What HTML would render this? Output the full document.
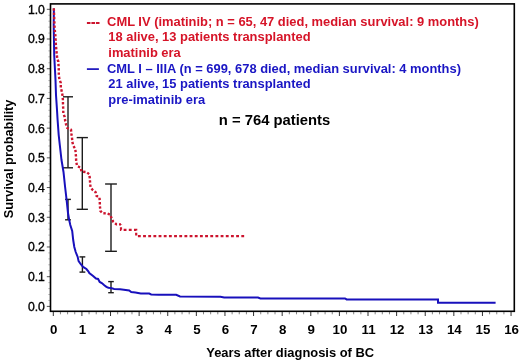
<!DOCTYPE html>
<html><head><meta charset="utf-8"><style>
html,body{margin:0;padding:0;background:#fff;}
body{width:520px;height:362px;overflow:hidden;}
svg{display:block;will-change:transform;}
</style></head><body>
<svg width="520" height="362" viewBox="0 0 520 362">
<rect x="0" y="0" width="520" height="362" fill="#fff"/>
<line x1="46.8" y1="306.40" x2="50.5" y2="306.40" stroke="#555" stroke-width="1"/>
<line x1="48.2" y1="300.46" x2="50.5" y2="300.46" stroke="#999" stroke-width="0.6"/>
<line x1="48.2" y1="294.52" x2="50.5" y2="294.52" stroke="#999" stroke-width="0.6"/>
<line x1="48.2" y1="288.57" x2="50.5" y2="288.57" stroke="#999" stroke-width="0.6"/>
<line x1="48.2" y1="282.63" x2="50.5" y2="282.63" stroke="#999" stroke-width="0.6"/>
<line x1="46.8" y1="276.69" x2="50.5" y2="276.69" stroke="#555" stroke-width="1"/>
<line x1="48.2" y1="270.75" x2="50.5" y2="270.75" stroke="#999" stroke-width="0.6"/>
<line x1="48.2" y1="264.81" x2="50.5" y2="264.81" stroke="#999" stroke-width="0.6"/>
<line x1="48.2" y1="258.86" x2="50.5" y2="258.86" stroke="#999" stroke-width="0.6"/>
<line x1="48.2" y1="252.92" x2="50.5" y2="252.92" stroke="#999" stroke-width="0.6"/>
<line x1="46.8" y1="246.98" x2="50.5" y2="246.98" stroke="#555" stroke-width="1"/>
<line x1="48.2" y1="241.04" x2="50.5" y2="241.04" stroke="#999" stroke-width="0.6"/>
<line x1="48.2" y1="235.10" x2="50.5" y2="235.10" stroke="#999" stroke-width="0.6"/>
<line x1="48.2" y1="229.15" x2="50.5" y2="229.15" stroke="#999" stroke-width="0.6"/>
<line x1="48.2" y1="223.21" x2="50.5" y2="223.21" stroke="#999" stroke-width="0.6"/>
<line x1="46.8" y1="217.27" x2="50.5" y2="217.27" stroke="#555" stroke-width="1"/>
<line x1="48.2" y1="211.33" x2="50.5" y2="211.33" stroke="#999" stroke-width="0.6"/>
<line x1="48.2" y1="205.39" x2="50.5" y2="205.39" stroke="#999" stroke-width="0.6"/>
<line x1="48.2" y1="199.44" x2="50.5" y2="199.44" stroke="#999" stroke-width="0.6"/>
<line x1="48.2" y1="193.50" x2="50.5" y2="193.50" stroke="#999" stroke-width="0.6"/>
<line x1="46.8" y1="187.56" x2="50.5" y2="187.56" stroke="#555" stroke-width="1"/>
<line x1="48.2" y1="181.62" x2="50.5" y2="181.62" stroke="#999" stroke-width="0.6"/>
<line x1="48.2" y1="175.68" x2="50.5" y2="175.68" stroke="#999" stroke-width="0.6"/>
<line x1="48.2" y1="169.73" x2="50.5" y2="169.73" stroke="#999" stroke-width="0.6"/>
<line x1="48.2" y1="163.79" x2="50.5" y2="163.79" stroke="#999" stroke-width="0.6"/>
<line x1="46.8" y1="157.85" x2="50.5" y2="157.85" stroke="#555" stroke-width="1"/>
<line x1="48.2" y1="151.91" x2="50.5" y2="151.91" stroke="#999" stroke-width="0.6"/>
<line x1="48.2" y1="145.97" x2="50.5" y2="145.97" stroke="#999" stroke-width="0.6"/>
<line x1="48.2" y1="140.02" x2="50.5" y2="140.02" stroke="#999" stroke-width="0.6"/>
<line x1="48.2" y1="134.08" x2="50.5" y2="134.08" stroke="#999" stroke-width="0.6"/>
<line x1="46.8" y1="128.14" x2="50.5" y2="128.14" stroke="#555" stroke-width="1"/>
<line x1="48.2" y1="122.20" x2="50.5" y2="122.20" stroke="#999" stroke-width="0.6"/>
<line x1="48.2" y1="116.26" x2="50.5" y2="116.26" stroke="#999" stroke-width="0.6"/>
<line x1="48.2" y1="110.31" x2="50.5" y2="110.31" stroke="#999" stroke-width="0.6"/>
<line x1="48.2" y1="104.37" x2="50.5" y2="104.37" stroke="#999" stroke-width="0.6"/>
<line x1="46.8" y1="98.43" x2="50.5" y2="98.43" stroke="#555" stroke-width="1"/>
<line x1="48.2" y1="92.49" x2="50.5" y2="92.49" stroke="#999" stroke-width="0.6"/>
<line x1="48.2" y1="86.55" x2="50.5" y2="86.55" stroke="#999" stroke-width="0.6"/>
<line x1="48.2" y1="80.60" x2="50.5" y2="80.60" stroke="#999" stroke-width="0.6"/>
<line x1="48.2" y1="74.66" x2="50.5" y2="74.66" stroke="#999" stroke-width="0.6"/>
<line x1="46.8" y1="68.72" x2="50.5" y2="68.72" stroke="#555" stroke-width="1"/>
<line x1="48.2" y1="62.78" x2="50.5" y2="62.78" stroke="#999" stroke-width="0.6"/>
<line x1="48.2" y1="56.84" x2="50.5" y2="56.84" stroke="#999" stroke-width="0.6"/>
<line x1="48.2" y1="50.89" x2="50.5" y2="50.89" stroke="#999" stroke-width="0.6"/>
<line x1="48.2" y1="44.95" x2="50.5" y2="44.95" stroke="#999" stroke-width="0.6"/>
<line x1="46.8" y1="39.01" x2="50.5" y2="39.01" stroke="#555" stroke-width="1"/>
<line x1="48.2" y1="33.07" x2="50.5" y2="33.07" stroke="#999" stroke-width="0.6"/>
<line x1="48.2" y1="27.13" x2="50.5" y2="27.13" stroke="#999" stroke-width="0.6"/>
<line x1="48.2" y1="21.18" x2="50.5" y2="21.18" stroke="#999" stroke-width="0.6"/>
<line x1="48.2" y1="15.24" x2="50.5" y2="15.24" stroke="#999" stroke-width="0.6"/>
<line x1="46.8" y1="9.30" x2="50.5" y2="9.30" stroke="#555" stroke-width="1"/>
<line x1="53.30" y1="311.3" x2="53.30" y2="316.0" stroke="#333" stroke-width="1"/>
<line x1="60.45" y1="311.3" x2="60.45" y2="314.3" stroke="#777" stroke-width="0.9"/>
<line x1="67.60" y1="311.3" x2="67.60" y2="314.3" stroke="#777" stroke-width="0.9"/>
<line x1="74.76" y1="311.3" x2="74.76" y2="314.3" stroke="#777" stroke-width="0.9"/>
<line x1="81.91" y1="311.3" x2="81.91" y2="316.0" stroke="#333" stroke-width="1"/>
<line x1="89.06" y1="311.3" x2="89.06" y2="314.3" stroke="#777" stroke-width="0.9"/>
<line x1="96.22" y1="311.3" x2="96.22" y2="314.3" stroke="#777" stroke-width="0.9"/>
<line x1="103.37" y1="311.3" x2="103.37" y2="314.3" stroke="#777" stroke-width="0.9"/>
<line x1="110.52" y1="311.3" x2="110.52" y2="316.0" stroke="#333" stroke-width="1"/>
<line x1="117.67" y1="311.3" x2="117.67" y2="314.3" stroke="#777" stroke-width="0.9"/>
<line x1="124.83" y1="311.3" x2="124.83" y2="314.3" stroke="#777" stroke-width="0.9"/>
<line x1="131.98" y1="311.3" x2="131.98" y2="314.3" stroke="#777" stroke-width="0.9"/>
<line x1="139.13" y1="311.3" x2="139.13" y2="316.0" stroke="#333" stroke-width="1"/>
<line x1="146.28" y1="311.3" x2="146.28" y2="314.3" stroke="#777" stroke-width="0.9"/>
<line x1="153.44" y1="311.3" x2="153.44" y2="314.3" stroke="#777" stroke-width="0.9"/>
<line x1="160.59" y1="311.3" x2="160.59" y2="314.3" stroke="#777" stroke-width="0.9"/>
<line x1="167.74" y1="311.3" x2="167.74" y2="316.0" stroke="#333" stroke-width="1"/>
<line x1="174.89" y1="311.3" x2="174.89" y2="314.3" stroke="#777" stroke-width="0.9"/>
<line x1="182.05" y1="311.3" x2="182.05" y2="314.3" stroke="#777" stroke-width="0.9"/>
<line x1="189.20" y1="311.3" x2="189.20" y2="314.3" stroke="#777" stroke-width="0.9"/>
<line x1="196.35" y1="311.3" x2="196.35" y2="316.0" stroke="#333" stroke-width="1"/>
<line x1="203.50" y1="311.3" x2="203.50" y2="314.3" stroke="#777" stroke-width="0.9"/>
<line x1="210.65" y1="311.3" x2="210.65" y2="314.3" stroke="#777" stroke-width="0.9"/>
<line x1="217.81" y1="311.3" x2="217.81" y2="314.3" stroke="#777" stroke-width="0.9"/>
<line x1="224.96" y1="311.3" x2="224.96" y2="316.0" stroke="#333" stroke-width="1"/>
<line x1="232.11" y1="311.3" x2="232.11" y2="314.3" stroke="#777" stroke-width="0.9"/>
<line x1="239.26" y1="311.3" x2="239.26" y2="314.3" stroke="#777" stroke-width="0.9"/>
<line x1="246.42" y1="311.3" x2="246.42" y2="314.3" stroke="#777" stroke-width="0.9"/>
<line x1="253.57" y1="311.3" x2="253.57" y2="316.0" stroke="#333" stroke-width="1"/>
<line x1="260.72" y1="311.3" x2="260.72" y2="314.3" stroke="#777" stroke-width="0.9"/>
<line x1="267.88" y1="311.3" x2="267.88" y2="314.3" stroke="#777" stroke-width="0.9"/>
<line x1="275.03" y1="311.3" x2="275.03" y2="314.3" stroke="#777" stroke-width="0.9"/>
<line x1="282.18" y1="311.3" x2="282.18" y2="316.0" stroke="#333" stroke-width="1"/>
<line x1="289.33" y1="311.3" x2="289.33" y2="314.3" stroke="#777" stroke-width="0.9"/>
<line x1="296.49" y1="311.3" x2="296.49" y2="314.3" stroke="#777" stroke-width="0.9"/>
<line x1="303.64" y1="311.3" x2="303.64" y2="314.3" stroke="#777" stroke-width="0.9"/>
<line x1="310.79" y1="311.3" x2="310.79" y2="316.0" stroke="#333" stroke-width="1"/>
<line x1="317.94" y1="311.3" x2="317.94" y2="314.3" stroke="#777" stroke-width="0.9"/>
<line x1="325.10" y1="311.3" x2="325.10" y2="314.3" stroke="#777" stroke-width="0.9"/>
<line x1="332.25" y1="311.3" x2="332.25" y2="314.3" stroke="#777" stroke-width="0.9"/>
<line x1="339.40" y1="311.3" x2="339.40" y2="316.0" stroke="#333" stroke-width="1"/>
<line x1="346.55" y1="311.3" x2="346.55" y2="314.3" stroke="#777" stroke-width="0.9"/>
<line x1="353.70" y1="311.3" x2="353.70" y2="314.3" stroke="#777" stroke-width="0.9"/>
<line x1="360.86" y1="311.3" x2="360.86" y2="314.3" stroke="#777" stroke-width="0.9"/>
<line x1="368.01" y1="311.3" x2="368.01" y2="316.0" stroke="#333" stroke-width="1"/>
<line x1="375.16" y1="311.3" x2="375.16" y2="314.3" stroke="#777" stroke-width="0.9"/>
<line x1="382.31" y1="311.3" x2="382.31" y2="314.3" stroke="#777" stroke-width="0.9"/>
<line x1="389.47" y1="311.3" x2="389.47" y2="314.3" stroke="#777" stroke-width="0.9"/>
<line x1="396.62" y1="311.3" x2="396.62" y2="316.0" stroke="#333" stroke-width="1"/>
<line x1="403.77" y1="311.3" x2="403.77" y2="314.3" stroke="#777" stroke-width="0.9"/>
<line x1="410.93" y1="311.3" x2="410.93" y2="314.3" stroke="#777" stroke-width="0.9"/>
<line x1="418.08" y1="311.3" x2="418.08" y2="314.3" stroke="#777" stroke-width="0.9"/>
<line x1="425.23" y1="311.3" x2="425.23" y2="316.0" stroke="#333" stroke-width="1"/>
<line x1="432.38" y1="311.3" x2="432.38" y2="314.3" stroke="#777" stroke-width="0.9"/>
<line x1="439.54" y1="311.3" x2="439.54" y2="314.3" stroke="#777" stroke-width="0.9"/>
<line x1="446.69" y1="311.3" x2="446.69" y2="314.3" stroke="#777" stroke-width="0.9"/>
<line x1="453.84" y1="311.3" x2="453.84" y2="316.0" stroke="#333" stroke-width="1"/>
<line x1="460.99" y1="311.3" x2="460.99" y2="314.3" stroke="#777" stroke-width="0.9"/>
<line x1="468.14" y1="311.3" x2="468.14" y2="314.3" stroke="#777" stroke-width="0.9"/>
<line x1="475.30" y1="311.3" x2="475.30" y2="314.3" stroke="#777" stroke-width="0.9"/>
<line x1="482.45" y1="311.3" x2="482.45" y2="316.0" stroke="#333" stroke-width="1"/>
<line x1="489.60" y1="311.3" x2="489.60" y2="314.3" stroke="#777" stroke-width="0.9"/>
<line x1="496.75" y1="311.3" x2="496.75" y2="314.3" stroke="#777" stroke-width="0.9"/>
<line x1="503.91" y1="311.3" x2="503.91" y2="314.3" stroke="#777" stroke-width="0.9"/>
<line x1="511.06" y1="311.3" x2="511.06" y2="316.0" stroke="#333" stroke-width="1"/>
<rect x="50.5" y="3.9" width="463.80" height="307.40" fill="none" stroke="#000" stroke-width="1.6"/>
<text x="44.9" y="310.80" text-anchor="end" font-size="12.2" font-family="Liberation Sans, sans-serif" fill="#000" stroke="#000" stroke-width="0.35">0.0</text>
<text x="44.9" y="281.09" text-anchor="end" font-size="12.2" font-family="Liberation Sans, sans-serif" fill="#000" stroke="#000" stroke-width="0.35">0.1</text>
<text x="44.9" y="251.38" text-anchor="end" font-size="12.2" font-family="Liberation Sans, sans-serif" fill="#000" stroke="#000" stroke-width="0.35">0.2</text>
<text x="44.9" y="221.67" text-anchor="end" font-size="12.2" font-family="Liberation Sans, sans-serif" fill="#000" stroke="#000" stroke-width="0.35">0.3</text>
<text x="44.9" y="191.96" text-anchor="end" font-size="12.2" font-family="Liberation Sans, sans-serif" fill="#000" stroke="#000" stroke-width="0.35">0.4</text>
<text x="44.9" y="162.25" text-anchor="end" font-size="12.2" font-family="Liberation Sans, sans-serif" fill="#000" stroke="#000" stroke-width="0.35">0.5</text>
<text x="44.9" y="132.54" text-anchor="end" font-size="12.2" font-family="Liberation Sans, sans-serif" fill="#000" stroke="#000" stroke-width="0.35">0.6</text>
<text x="44.9" y="102.83" text-anchor="end" font-size="12.2" font-family="Liberation Sans, sans-serif" fill="#000" stroke="#000" stroke-width="0.35">0.7</text>
<text x="44.9" y="73.12" text-anchor="end" font-size="12.2" font-family="Liberation Sans, sans-serif" fill="#000" stroke="#000" stroke-width="0.35">0.8</text>
<text x="44.9" y="43.41" text-anchor="end" font-size="12.2" font-family="Liberation Sans, sans-serif" fill="#000" stroke="#000" stroke-width="0.35">0.9</text>
<text x="44.9" y="13.70" text-anchor="end" font-size="12.2" font-family="Liberation Sans, sans-serif" fill="#000" stroke="#000" stroke-width="0.35">1.0</text>
<text x="53.80" y="333.5" text-anchor="middle" font-size="13.3" font-family="Liberation Sans, sans-serif" font-weight="bold" fill="#000">0</text>
<text x="82.41" y="333.5" text-anchor="middle" font-size="13.3" font-family="Liberation Sans, sans-serif" font-weight="bold" fill="#000">1</text>
<text x="111.02" y="333.5" text-anchor="middle" font-size="13.3" font-family="Liberation Sans, sans-serif" font-weight="bold" fill="#000">2</text>
<text x="139.63" y="333.5" text-anchor="middle" font-size="13.3" font-family="Liberation Sans, sans-serif" font-weight="bold" fill="#000">3</text>
<text x="168.24" y="333.5" text-anchor="middle" font-size="13.3" font-family="Liberation Sans, sans-serif" font-weight="bold" fill="#000">4</text>
<text x="196.85" y="333.5" text-anchor="middle" font-size="13.3" font-family="Liberation Sans, sans-serif" font-weight="bold" fill="#000">5</text>
<text x="225.46" y="333.5" text-anchor="middle" font-size="13.3" font-family="Liberation Sans, sans-serif" font-weight="bold" fill="#000">6</text>
<text x="254.07" y="333.5" text-anchor="middle" font-size="13.3" font-family="Liberation Sans, sans-serif" font-weight="bold" fill="#000">7</text>
<text x="282.68" y="333.5" text-anchor="middle" font-size="13.3" font-family="Liberation Sans, sans-serif" font-weight="bold" fill="#000">8</text>
<text x="311.29" y="333.5" text-anchor="middle" font-size="13.3" font-family="Liberation Sans, sans-serif" font-weight="bold" fill="#000">9</text>
<text x="339.90" y="333.5" text-anchor="middle" font-size="13.3" font-family="Liberation Sans, sans-serif" font-weight="bold" fill="#000">10</text>
<text x="368.51" y="333.5" text-anchor="middle" font-size="13.3" font-family="Liberation Sans, sans-serif" font-weight="bold" fill="#000">11</text>
<text x="397.12" y="333.5" text-anchor="middle" font-size="13.3" font-family="Liberation Sans, sans-serif" font-weight="bold" fill="#000">12</text>
<text x="425.73" y="333.5" text-anchor="middle" font-size="13.3" font-family="Liberation Sans, sans-serif" font-weight="bold" fill="#000">13</text>
<text x="454.34" y="333.5" text-anchor="middle" font-size="13.3" font-family="Liberation Sans, sans-serif" font-weight="bold" fill="#000">14</text>
<text x="482.95" y="333.5" text-anchor="middle" font-size="13.3" font-family="Liberation Sans, sans-serif" font-weight="bold" fill="#000">15</text>
<text x="511.56" y="333.5" text-anchor="middle" font-size="13.3" font-family="Liberation Sans, sans-serif" font-weight="bold" fill="#000">16</text>
<text x="290.2" y="356.6" text-anchor="middle" font-size="12.92" font-family="Liberation Sans, sans-serif" font-weight="bold" fill="#000">Years after diagnosis of BC</text>
<text transform="translate(13.1,158.9) rotate(-90)" x="0" y="0" text-anchor="middle" font-size="12.8" font-family="Liberation Sans, sans-serif" font-weight="bold" fill="#000">Survival probability</text>
<line x1="86.9" y1="23" x2="99.6" y2="23" stroke="rgb(204,20,46)" stroke-width="2.0" stroke-dasharray="3.6 0.9"/>
<text x="107.07" y="25.9" font-size="12.92" font-family="Liberation Sans, sans-serif" font-weight="bold" fill="rgb(214,20,40)">CML IV (imatinib; n = 65, 47 died, median survival: 9 months)</text>
<text x="108.3" y="41.2" font-size="12.92" font-family="Liberation Sans, sans-serif" font-weight="bold" fill="rgb(214,20,40)">18 alive, 13 patients transplanted</text>
<text x="108.3" y="56.6" font-size="12.92" font-family="Liberation Sans, sans-serif" font-weight="bold" fill="rgb(214,20,40)">imatinib era</text>
<line x1="86.9" y1="69.1" x2="98.9" y2="69.1" stroke="rgb(24,16,188)" stroke-width="1.7"/>
<text x="107.0" y="72.8" font-size="12.92" font-family="Liberation Sans, sans-serif" font-weight="bold" fill="rgb(26,22,196)">CML I – IIIA (n = 699, 678 died, median survival: 4 months)</text>
<text x="108.3" y="88.3" font-size="12.92" font-family="Liberation Sans, sans-serif" font-weight="bold" fill="rgb(26,22,196)">21 alive, 15 patients transplanted</text>
<text x="108.3" y="103.7" font-size="12.92" font-family="Liberation Sans, sans-serif" font-weight="bold" fill="rgb(26,22,196)">pre-imatinib era</text>
<text x="218.8" y="124.5" font-size="14.8" font-family="Liberation Sans, sans-serif" font-weight="bold" fill="#000">n = 764 patients</text>
<line x1="68.0" y1="96.8" x2="68.0" y2="167.8" stroke="#1c1c1c" stroke-width="1.4"/>
<line x1="63.0" y1="96.8" x2="73.0" y2="96.8" stroke="#1c1c1c" stroke-width="1.4"/>
<line x1="63.0" y1="167.8" x2="73.0" y2="167.8" stroke="#1c1c1c" stroke-width="1.4"/>
<line x1="82.3" y1="137.6" x2="82.3" y2="209.3" stroke="#1c1c1c" stroke-width="1.4"/>
<line x1="76.7" y1="137.6" x2="87.9" y2="137.6" stroke="#1c1c1c" stroke-width="1.4"/>
<line x1="76.7" y1="209.3" x2="87.9" y2="209.3" stroke="#1c1c1c" stroke-width="1.4"/>
<line x1="111.0" y1="184.0" x2="111.0" y2="251.3" stroke="#1c1c1c" stroke-width="1.4"/>
<line x1="105.1" y1="184.0" x2="116.9" y2="184.0" stroke="#1c1c1c" stroke-width="1.4"/>
<line x1="105.1" y1="251.3" x2="116.9" y2="251.3" stroke="#1c1c1c" stroke-width="1.4"/>
<line x1="68.0" y1="199.4" x2="68.0" y2="219.8" stroke="#1c1c1c" stroke-width="1.4"/>
<line x1="65.1" y1="199.4" x2="70.9" y2="199.4" stroke="#1c1c1c" stroke-width="1.4"/>
<line x1="65.1" y1="219.8" x2="70.9" y2="219.8" stroke="#1c1c1c" stroke-width="1.4"/>
<line x1="82.4" y1="256.9" x2="82.4" y2="272.1" stroke="#1c1c1c" stroke-width="1.4"/>
<line x1="79.5" y1="256.9" x2="85.3" y2="256.9" stroke="#1c1c1c" stroke-width="1.4"/>
<line x1="79.5" y1="272.1" x2="85.3" y2="272.1" stroke="#1c1c1c" stroke-width="1.4"/>
<line x1="111.0" y1="281.6" x2="111.0" y2="292.7" stroke="#1c1c1c" stroke-width="1.4"/>
<line x1="108.2" y1="281.6" x2="113.8" y2="281.6" stroke="#1c1c1c" stroke-width="1.4"/>
<line x1="108.2" y1="292.7" x2="113.8" y2="292.7" stroke="#1c1c1c" stroke-width="1.4"/>
<path d="M53.9,8.4 L53.7,25.0 L54.2,55.0 L55.5,80.0 L56.0,95.0 L57.0,110.0 L57.6,120.0 L58.7,135.0 L59.8,145.0 L61.5,160.0 L63.5,172.0 L65.1,187.0 L66.5,199.0 L68.0,213.0 L69.2,220.0 L70.3,225.0 L72.2,231.0 L73.2,240.0 L74.3,247.0 L75.7,252.0 L77.7,257.0 L78.6,261.1 L80.6,264.0 L83.1,266.9 L86.4,269.0 L88.5,271.5 L89.3,273.1 L93.1,276.0 L96.0,278.6 L98.1,279.0 L99.7,281.9 L101.8,283.1 L104.3,285.2 L106.4,286.8 L108.4,287.7 L110.9,288.1 L114.2,288.9 L120.0,289.3 L123.8,289.7 L129.2,290.5 L131.2,292.0 L135.4,292.4 L140.8,293.5 L149.2,293.6 L151.2,294.4 L158.8,294.8 L176.2,294.8 L180.0,296.5 L220.4,296.7 L224.2,297.5 L258.0,297.5 L260.4,298.4 L345.0,298.4 L346.6,299.4 L438.0,299.4 L438.0,302.8 L495.6,302.8" fill="none" stroke="rgb(24,16,188)" stroke-width="2.0" stroke-linejoin="miter"/>
<path d="M53.8,8.3 L54.2,18.0 L54.6,27.5 L55.0,32.0 L55.5,36.6 L55.6,40.7 L55.9,44.9 L56.3,49.4 L56.7,53.6 L57.2,58.3 L58.3,61.6 L58.6,66.6 L58.8,70.4 L58.8,74.9 L59.4,79.3 L60.8,82.9 L60.8,87.5 L61.7,91.2 L62.5,95.3 L62.9,99.9 L63.0,104.4 L63.2,108.5 L63.3,113.2 L64.7,117.0 L65.2,120.9 L66.2,124.8 L67.2,128.0 L71.0,129.7 L71.4,133.7 L72.0,137.9 L72.4,142.1 L73.3,145.8 L75.3,148.9 L75.7,153.0 L76.0,157.2 L76.2,161.6 L77.1,166.0 L80.6,167.7 L81.5,171.6 L86.5,172.1 L89.3,174.3 L89.8,178.2 L90.1,182.6 L90.5,187.0 L92.4,189.6 L95.6,192.2 L96.4,195.7 L99.5,197.6 L99.8,202.0 L99.9,206.0 L100.4,211.0 L102.6,213.2 L107.6,213.5 L110.4,214.8 L111.5,218.1 L113.1,221.5 L116.5,224.4 L121.0,224.4" fill="none" stroke="rgb(204,20,46)" stroke-width="2.4" stroke-dasharray="2.4 1.9"/>
<path d="M121,224.4 V229.8 H136.2 V236.2 H244.8" fill="none" stroke="rgb(204,20,46)" stroke-width="2.2" stroke-dasharray="2.85 2.32" stroke-dashoffset="2.31"/>
</svg>
</body></html>
